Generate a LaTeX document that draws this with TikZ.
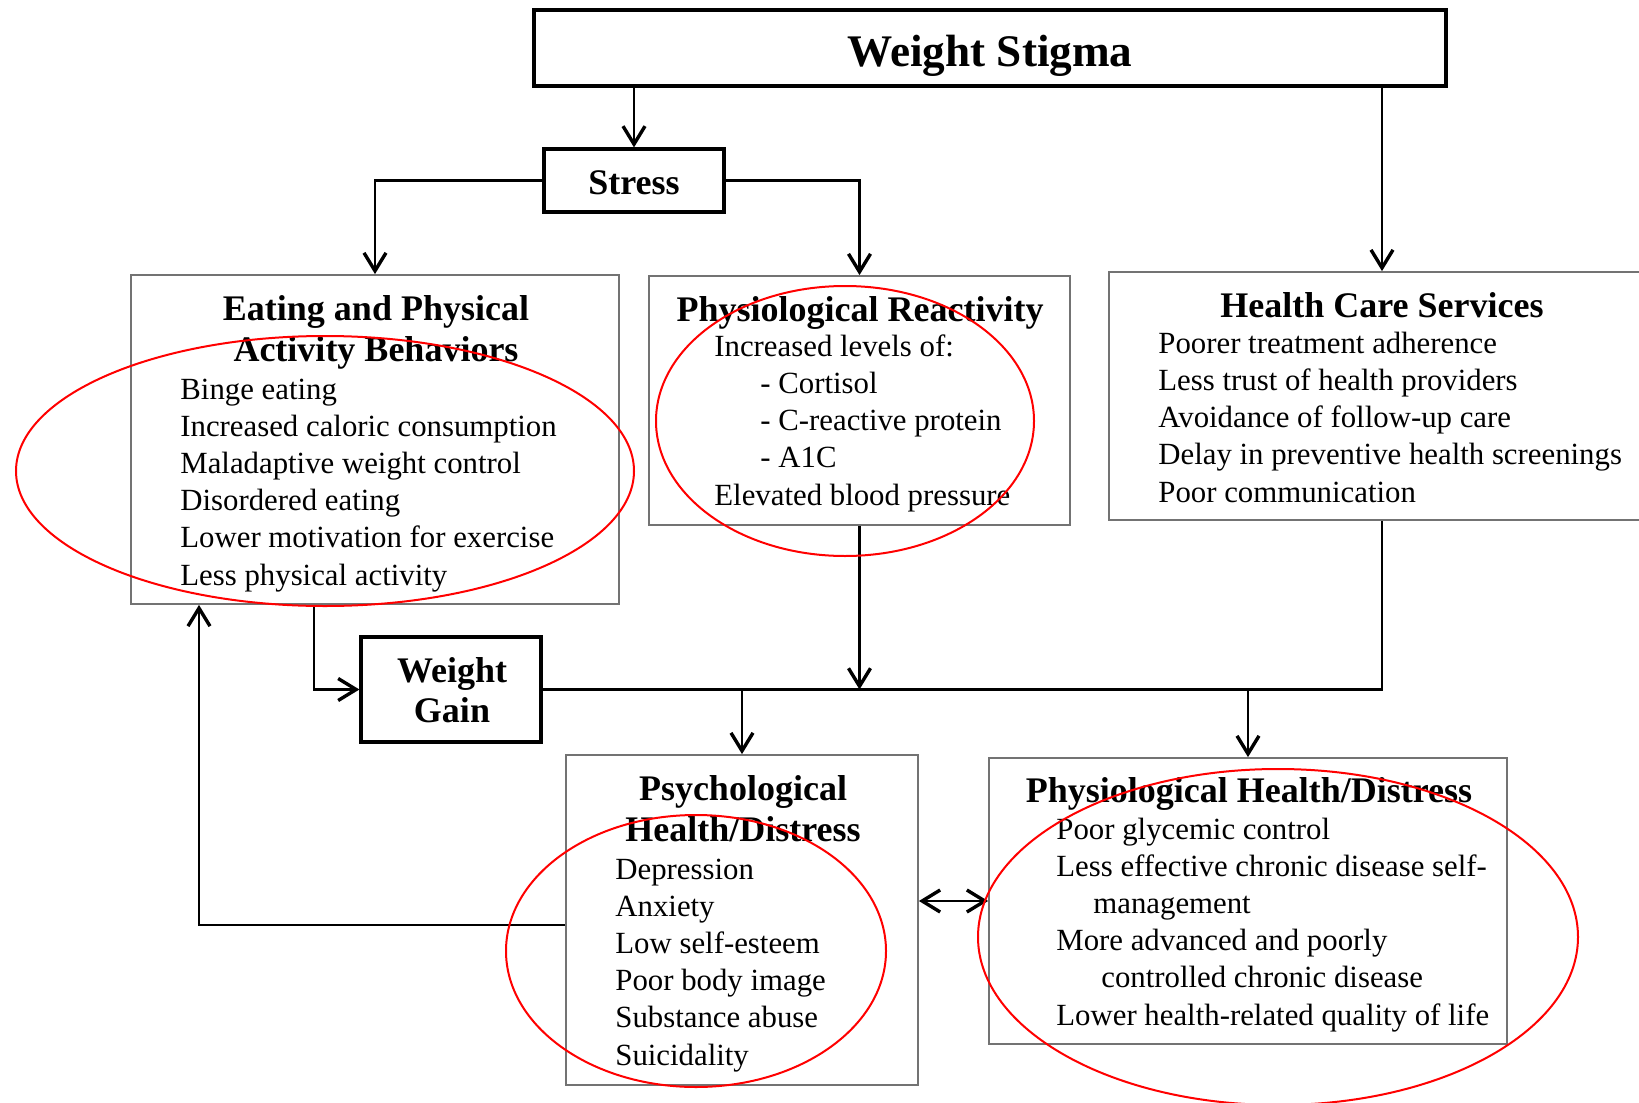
\documentclass[tikz,border=0pt]{standalone}
\usepackage{fontspec}
\setmainfont{Liberation Serif}
\usetikzlibrary{arrows.meta,positioning}

\begin{document}
\begin{tikzpicture}[x=0.5pt, y=-0.5pt,
    >={Straight Barb[length=9pt,width=11pt,line width=1.7pt]},
    heavybox/.style={draw, line width=1.6pt, rectangle, inner sep=0pt},
    listbox/.style={draw=black!55, line width=0.9pt, rectangle, inner sep=0pt},
    headtxt/.style={font=\bfseries\fontsize{18}{20.5}\selectfont, align=center, inner sep=0pt, anchor=base},
    itemtxt/.style={font=\fontsize{15.4}{18.6}\selectfont, align=left, inner sep=0pt, anchor=base west},
    link/.style={line width=1.4pt},
    redring/.style={draw=red, line width=1pt}]
    \useasboundingbox (0,0) rectangle (1639,1103);
    \fill[white] (0,0) rectangle (1639,1103);

    % boxes
    \node[heavybox, line width=2pt, minimum width=456pt, minimum height=38pt] (ws) at (990,48) {};
    \node[headtxt, font=\bfseries\fontsize{22.6}{26}\selectfont] (wstxt) at (990,66) {Weight Stigma};
    \node[heavybox, minimum width=90pt, minimum height=31.5pt] (stress) at (634,180.5) {};
    \node[headtxt] (stresstxt) at (634,194) {Stress};
    \node[heavybox, minimum width=90pt, minimum height=52.5pt] (wgain) at (451,689.5) {};
    \node[headtxt, font=\bfseries\fontsize{18}{20}\selectfont] (wgaintxt) at (452,722) {Weight\\Gain};

    \node[listbox, minimum width=244pt, minimum height=164.5pt] (eat) at (375,439.5) {};
    \node[listbox, minimum width=210.5pt, minimum height=124.5pt] (react) at (859.5,400.5) {};
    \node[listbox, minimum width=273pt, minimum height=124pt] (hcs) at (1382,396) {};
    \node[listbox, minimum width=176pt, minimum height=165pt] (psych) at (742,920) {};
    \node[listbox, minimum width=259pt, minimum height=143pt] (physio) at (1248,901) {};

    % box texts (base = last line)
    \node[headtxt] (eathead) at (376,361) {Eating and Physical\\Activity Behaviors};
    \node[itemtxt] (eatlist) at (180,585) {Binge eating\\Increased caloric consumption\\Maladaptive weight control\\Disordered eating\\Lower motivation for exercise\\Less physical activity};
    \node[headtxt] (reacthead) at (860,321) {Physiological Reactivity};
    \node[itemtxt] (reactlist) at (714,505) {Increased levels of:\\\hspace*{23pt}- Cortisol\\\hspace*{23pt}- C-reactive protein\\\hspace*{23pt}- A1C\\Elevated blood pressure};
    \node[headtxt] (hcshead) at (1382,317) {Health Care Services};
    \node[itemtxt] (hcslist) at (1158,502) {Poorer treatment adherence\\Less trust of health providers\\Avoidance of follow-up care\\Delay in preventive health screenings\\Poor communication};
    \node[headtxt] (psychhead) at (743,841) {Psychological\\Health/Distress};
    \node[itemtxt] (psychlist) at (615,1065) {Depression\\Anxiety\\Low self-esteem\\Poor body image\\Substance abuse\\Suicidality};
    \node[headtxt] (physiohead) at (1249,802) {Physiological Health/Distress};
    \node[itemtxt] (physiolist) at (1056,1025) {Poor glycemic control\\Less effective chronic disease self-\\\hspace*{18.5pt}management\\More advanced and poorly\\\hspace*{22.5pt}controlled chronic disease\\Lower health-related quality of life};

    % connectors
    \draw[link, ->] (ws.south -| stress.north) -- (stress.north);
    \draw[link, ->] (stress.west) -| (eat.north);
    \draw[link, ->] (stress.east) -| (react.north);
    \draw[link, ->] (ws.south -| hcs.north) -- (hcs.north);
    \draw[link, ->] ([xshift=-30.5pt]eat.south) |- (wgain.west);
    \draw[link] (hcs.south) |- (wgain.east);
    \draw[link, ->] (react.south) -- (react.south |- wgain.east);
    \draw[link, ->] (psych.north |- wgain.east) -- (psych.north);
    \draw[link, ->] (physio.north |- wgain.east) -- (physio.north);
    \draw[link, ->] ([yshift=-2.5pt]psych.west) -| ([xshift=-88pt]eat.south);
    \draw[link, <->] (psych.east |- physio.west) -- (physio.west);

    % red rings
    \draw[redring] (325,471) ellipse [x radius=309, y radius=135];
    \draw[redring] (845,421) ellipse [x radius=189, y radius=135];
    \draw[redring] (696,951) ellipse [x radius=190, y radius=136];
    \draw[redring] (1278,937) ellipse [x radius=300, y radius=168];
\end{tikzpicture}
\end{document}
